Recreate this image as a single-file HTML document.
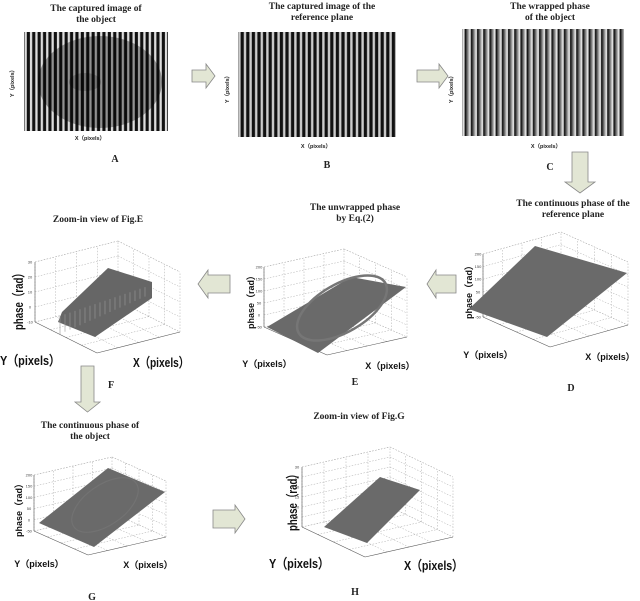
<!DOCTYPE html>
<html><head><meta charset="utf-8"><style>
body{margin:0;background:#fff}
svg{display:block}
.t{font-family:"Liberation Serif",serif;font-weight:bold;font-size:9.5px;fill:#222;text-anchor:middle}
.s{font-family:"Liberation Sans",sans-serif;font-weight:bold;font-size:5.5px;fill:#222;text-anchor:middle}
.m{font-family:"Liberation Sans",sans-serif;font-weight:bold;font-size:9px;fill:#111;text-anchor:middle}
.L{font-family:"Liberation Sans",sans-serif;font-weight:bold;font-size:13px;fill:#111}
.k{font-family:"Liberation Sans",sans-serif;font-size:4px;fill:#444;text-anchor:middle}
.p{font-family:"Liberation Serif",serif;font-weight:bold;font-size:10px;fill:#222;text-anchor:middle}
</style></head><body>
<svg id="fig" width="640" height="601" viewBox="0 0 640 601" xmlns="http://www.w3.org/2000/svg">
<defs>
<pattern id="strA" width="5.4" height="10" patternUnits="userSpaceOnUse"><rect width="5.4" height="10" fill="#111"/><rect x="2.9" width="2.3" height="10" fill="#ddd"/></pattern>
<pattern id="strB" width="5.6" height="10" patternUnits="userSpaceOnUse"><rect width="5.6" height="10" fill="#111"/><rect x="3" width="2.4" height="10" fill="#ccc"/></pattern>
<linearGradient id="saw" x1="0" x2="1" y1="0" y2="0"><stop offset="0" stop-color="#000"/><stop offset="0.85" stop-color="#fafafa"/><stop offset="1" stop-color="#111"/></linearGradient>
<pattern id="strC" width="6.2" height="10" patternUnits="userSpaceOnUse"><rect width="6.2" height="10" fill="url(#saw)"/></pattern>
</defs>

<g>
<text class="t" x="96" y="11">The captured image of</text>
<text class="t" x="96" y="22">the object</text>
<rect x="24" y="32" width="144" height="99" fill="url(#strA)"/>
<ellipse cx="100" cy="82" rx="62" ry="46" fill="#000" opacity="0.35"/>
<ellipse cx="85" cy="82" rx="16" ry="9" fill="#000" opacity="0.2"/>
<text class="s" x="90" y="140">X（pixels）</text>
<text class="s" transform="translate(14,82) rotate(-90)">Y（pixels）</text>
<text class="p" x="115" y="162">A</text>
</g>

<g>
<text class="t" x="322" y="9">The captured image of the</text>
<text class="t" x="322" y="20">reference plane</text>
<rect x="238" y="32" width="158" height="105" fill="url(#strB)"/>
<text class="s" x="316" y="148">X（pixels）</text>
<text class="s" transform="translate(229,88) rotate(-90)">Y（pixels）</text>
<text class="p" x="327" y="168">B</text>
</g>

<g>
<text class="t" x="550" y="9">The wrapped phase</text>
<text class="t" x="550" y="20">of the object</text>
<rect x="462" y="29" width="162" height="107" fill="url(#strC)"/>
<text class="s" x="546" y="148">X（pixels）</text>
<text class="s" transform="translate(453,88) rotate(-90)">Y（pixels）</text>
<text class="p" x="550" y="170">C</text>
</g>

<g fill="#e2e6d4" stroke="#888" stroke-width="0.8">
<path d="M192,70 h14 v-6 l9,12 l-9,12 v-6 h-14 z"/>
<path d="M417,70 h22 v-6 l9,12 l-9,12 v-6 h-22 z"/>
<path d="M572,152 h16 v30 h7 l-15,11 l-15,-11 h7 z"/>
<path d="M456,275 h-20 v-5 l-9,14 l9,14 v-5 h20 z"/>
<path d="M230,275 h-22 v-5 l-10,14 l10,14 v-5 h22 z"/>
<path d="M81,366 h13 v36 h6 l-12.5,10 l-12.5,-10 h6 z"/>
<path d="M213,510 h22 v-5 l10,14 l-10,14 v-5 h-22 z"/>
</g>

<text class="t" x="573" y="206">The continuous phase of the</text>
<text class="t" x="573" y="217">reference plane</text>
<text class="m" x="488" y="358">Y（pixels）</text>
<text class="m" x="610" y="360">X（pixels）</text>
<text class="m" transform="translate(472,290) rotate(-90)">phase（rad）</text>
<text class="p" x="571" y="391">D</text>

<text class="t" x="355" y="210">The unwrapped phase</text>
<text class="t" x="355" y="221">by Eq.(2)</text>
<text class="m" x="267" y="367">Y（pixels）</text>
<text class="m" x="390" y="369">X（pixels）</text>
<text class="m" transform="translate(254,300) rotate(-90)">phase（rad）</text>
<text class="p" x="355" y="385">E</text>

<text class="t" x="98" y="222">Zoom-in view of Fig.E</text>
<text class="L" x="0" y="365" textLength="60" lengthAdjust="spacingAndGlyphs">Y（pixels）</text>
<text class="L" x="133" y="367" textLength="56" lengthAdjust="spacingAndGlyphs">X（pixels）</text>
<text class="L" transform="translate(23,330) rotate(-90)" textLength="62" lengthAdjust="spacingAndGlyphs">phase（rad）</text>
<text class="p" x="111" y="388">F</text>

<text class="t" x="90" y="428">The continuous phase of</text>
<text class="t" x="90" y="439">the object</text>
<text class="m" x="39" y="567">Y（pixels）</text>
<text class="m" x="148" y="568">X（pixels）</text>
<text class="m" transform="translate(22,508) rotate(-90)">phase（rad）</text>
<text class="p" x="92" y="600">G</text>

<text class="t" x="359" y="419">Zoom-in view of Fig.G</text>
<text class="L" x="269" y="568" textLength="60" lengthAdjust="spacingAndGlyphs">Y（pixels）</text>
<text class="L" x="404" y="570" textLength="59" lengthAdjust="spacingAndGlyphs">X（pixels）</text>
<text class="L" transform="translate(297,531) rotate(-90)" textLength="62" lengthAdjust="spacingAndGlyphs">phase（rad）</text>
<text class="p" x="355" y="595">H</text>
<g id="plots"></g>
</svg>
<script>
const dZTicks = ["-50","0","50","100","150","200"];
const eZTicks = ["-50","0","50","100","150","200"];
const fZTicks = ["-10","0","10","20","30"];
const gZTicks = ["-50","0","50","100","150","200"];
const hZTicks = ["0","5","10","15","20","25","30"];
const NS = "http://www.w3.org/2000/svg";
const root = document.getElementById('plots');
function el(tag, attrs, parent){const e=document.createElementNS(NS,tag);for(const k in attrs)e.setAttribute(k,attrs[k]);(parent||root).appendChild(e);return e;}
function line(a,b,g,dash){return el('line',{x1:a[0],y1:a[1],x2:b[0],y2:b[1],stroke:dash?'#aaa':'#555','stroke-width':dash?0.5:0.6,'stroke-dasharray':dash?'1.5,1.5':'none'},g);}
function box(name,BL,BF,BR,h,zt){
  const BB=[BL[0]+BR[0]-BF[0],BL[1]+BR[1]-BF[1]];
  const g=el('g',{});
  
  
  const up=p=>[p[0],p[1]-h];
  [BL,BB,BR].forEach(p=>line(p,up(p),g,true));
  line(up(BL),up(BB),g,true);line(up(BB),up(BR),g,true);
  line(BL,BB,g,true);line(BB,BR,g,true);
  for(let i=0;i<zt.length;i++){
    const f=i/(zt.length-1);
    const a=[BL[0],BL[1]-h*f],b=[BB[0],BB[1]-h*f],c=[BR[0],BR[1]-h*f];
    line(a,b,g,true);line(b,c,g,true);
    const t=el('text',{class:'k',x:a[0]-5,y:a[1]+1.5},g);t.textContent=zt[i];
    
    
  }
  for(let i=1;i<4;i++){const f=i/4;
    const p=[BL[0]+(BB[0]-BL[0])*f,BL[1]+(BB[1]-BL[1])*f];
    const q=[BB[0]+(BR[0]-BB[0])*f,BB[1]+(BR[1]-BB[1])*f];
    line(p,up(p),g,true);line(q,up(q),g,true);
    const r=[BL[0]+(BF[0]-BL[0])*f,BL[1]+(BF[1]-BL[1])*f];
    const s=[BF[0]+(BR[0]-BF[0])*f,BF[1]+(BR[1]-BF[1])*f];
    line(r,[r[0]+(BB[0]-BL[0]),r[1]+(BB[1]-BL[1])],g,true);
    line(s,[s[0]+(BB[0]-BR[0]),s[1]+(BB[1]-BR[1])],g,true);
  }
  line(BL,up(BL),g,false);line(BL,BF,g,false);line(BF,BR,g,false);
  return g;
}
function surf(name,pts,fill){
  const p=el('polygon',{points:pts.map(q=>q.join(',')).join(' '),fill:fill||'#6a6a6a'});
  
  
  return p;
}
box('plot-d',[483,317],[550,347],[628,325],63,dZTicks);
surf('reference-phase-surface',[[469,309],[535,246],[627,273],[547,337]]);
box('plot-e',[264,327],[327,355],[407,337],60,eZTicks);
surf('unwrapped-phase-surface',[[267,327],[351,277],[406,287],[318,353]]);
const ee=el('ellipse',{cx:342,cy:308,rx:50,ry:24,transform:'rotate(-30 342 308)',fill:'none',stroke:'#767676','stroke-width':2.5});


box('plot-f',[35,322],[97,353],[180,332],60,fZTicks);
surf('zoom-e-surface',[[62,312],[108,268],[152,282],[152,298],[95,337],[58,322]],'#666');
for(let i=0;i<18;i++){const x=60+i*5;el('line',{x1:x,y1:316-i*1.7,x2:x,y2:334-i*2.2,stroke:'#999','stroke-width':0.6});}
box('plot-g',[34,531],[88,555],[166,537],56,gZTicks);
surf('object-phase-surface',[[39,523],[108,468],[165,492],[94,547]]);
const ge=el('ellipse',{cx:105,cy:505,rx:38,ry:20,transform:'rotate(-35 105 505)',fill:'none',stroke:'#727272','stroke-width':1.2});


box('plot-h',[302,527],[365,557],[453,537],60,hZTicks);
surf('zoom-g-surface',[[324,527],[380,477],[420,490],[367,543]]);
</script>
</body></html>
